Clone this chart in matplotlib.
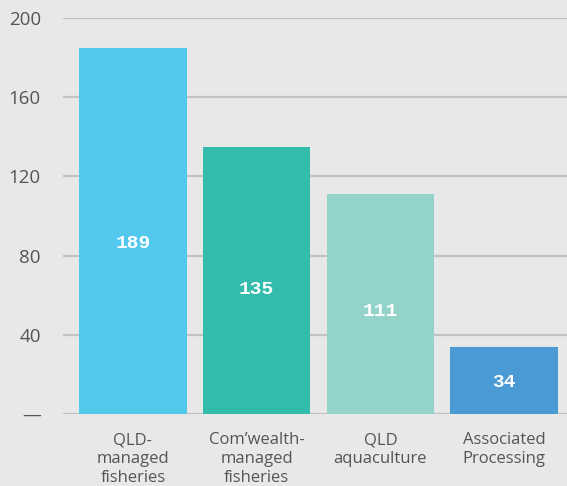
import matplotlib
matplotlib.use("Agg")
from matplotlib import pyplot as plt
import numpy as np

# categories and values
categories = ["QLD-\nmanaged\nfisheries", "Com\u2019wealth-\nmanaged\nfisheries", "QLD\naquaculture", "Associated\nProcessing"]
barHeights = [185, 135, 111, 34]
barLabels = ["189", "135", "111", "34"]
barColors = ["#52c8ec", "#33bcab", "#94d3c9", "#4a9ad6"]
yTicks = [0, 40, 80, 120, 160, 200]
yTickLabels = ["\u2014", "40", "80", "120", "160", "200"]

bgColor = "#e8e8e8"
textColor = "#555555"
gridColor = "#c2c2c2"

plt.rcParams["font.family"] = ["Open Sans", "DejaVu Sans"]

fig = plt.figure(figsize=(5.67, 4.86), dpi=100, facecolor=bgColor)
ax = fig.add_axes([63 / 567, 72 / 486, 1 - 63 / 567, 396 / 486], facecolor=bgColor)

x = np.arange(len(categories))
ax.bar(x, barHeights, width=0.87, color=barColors, zorder=3)

#white value labels inside the bars, monospaced
for xi, h, lab in zip(x, barHeights, barLabels):
    ax.text(xi, h * 0.465, lab, ha="center", va="center", color="white",
            fontsize=14, fontweight="bold", family=["Liberation Mono"], zorder=4)

ax.set_xlim(-0.565, 3.508)
ax.set_ylim(0, 200)
ax.set_yticks(yTicks)
ax.set_yticklabels(yTickLabels)
ax.yaxis.grid(True, color=gridColor, linewidth=1.6, zorder=0)
ax.tick_params(axis="y", length=0, pad=16, labelsize=13.5, labelcolor=textColor)
ax.set_xticks(x)
ax.set_xticklabels(categories, linespacing=1.25)
ax.tick_params(axis="x", length=0, pad=13, labelsize=12, labelcolor=textColor)
for s in ax.spines.values():
    s.set_visible(False)

fig.savefig("out.png", dpi=100, facecolor=bgColor)
